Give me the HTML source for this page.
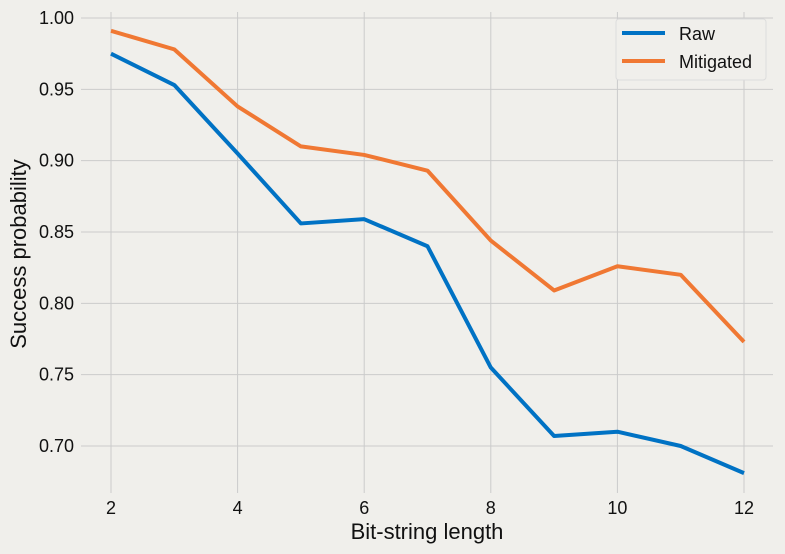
<!DOCTYPE html>
<html><head><meta charset="utf-8"><style>
body{margin:0;background:#f0efeb;}
svg{display:block;font-family:"Liberation Sans",sans-serif;}
</style></head><body>
<svg id="chart" width="785" height="554" xmlns="http://www.w3.org/2000/svg">
<rect width="785" height="554" fill="#f0efeb"/>
<g id="grid"></g>
<g id="ticks"></g>
<g id="series"></g>
<text x="427" y="539" font-size="22" text-anchor="middle" fill="#111">Bit-string length</text>
<text x="0" y="0" font-size="22" text-anchor="middle" fill="#111" transform="translate(26,254) rotate(-90)">Success probability</text>
<g>
<rect x="616" y="19" width="150" height="61" rx="3" fill="#f0efeb" stroke="#dcdcdc"/>
<line x1="622" y1="33" x2="665" y2="33" stroke="#0072c4" stroke-width="4"/>
<text x="679" y="40" font-size="18" fill="#111">Raw</text>
<line x1="622" y1="61" x2="665" y2="61" stroke="#f07833" stroke-width="4"/>
<text x="679" y="68" font-size="18" fill="#111">Mitigated</text>
</g>
</svg>
<script>
const categories=[2,3,4,5,6,7,8,9,10,11,12];
const rawValues=[0.975,0.953,0.905,0.856,0.859,0.840,0.755,0.707,0.710,0.700,0.681];
const mitigatedValues=[0.991,0.978,0.938,0.910,0.904,0.893,0.844,0.809,0.826,0.820,0.773];
const xTicks=[2,4,6,8,10,12];
const yTicks=[0.70,0.75,0.80,0.85,0.90,0.95,1.00];
const NS="http://www.w3.org/2000/svg";
function xs(v){return 111+(v-2)*63.3;}
function ys(v){return 446-(v-0.70)*1426.7;}
const grid=document.getElementById('grid'),ticks=document.getElementById('ticks'),series=document.getElementById('series');
function mk(tag,attrs,parent){const e=document.createElementNS(NS,tag);for(const k in attrs)e.setAttribute(k,attrs[k]);parent.appendChild(e);return e;}
yTicks.forEach(t=>{
  const l=mk('line',{x1:81,x2:773,y1:ys(t),y2:ys(t),stroke:'#cbcbcb','stroke-width':1},grid);
  
  
  const tx=mk('text',{x:74,y:ys(t)+6,'font-size':18,'text-anchor':'end',fill:'#111'},ticks);
  tx.textContent=t.toFixed(2);
  
  
});
xTicks.forEach(t=>{
  const l=mk('line',{x1:xs(t),x2:xs(t),y1:12,y2:493,stroke:'#cbcbcb','stroke-width':1},grid);
  
  
  const tx=mk('text',{x:xs(t),y:514,'font-size':18,'text-anchor':'middle',fill:'#111'},ticks);
  tx.textContent=t;
  
  
});
function line(vals,color,name){
  const p=mk('polyline',{points:vals.map((v,i)=>xs(categories[i])+','+ys(v)).join(' '),fill:'none',stroke:color,'stroke-width':4,'stroke-linejoin':'round'},series);
  
  
}
line(rawValues,'#0072c4','raw-line');
line(mitigatedValues,'#f07833','mitigated-line');
</script>
</body></html>
